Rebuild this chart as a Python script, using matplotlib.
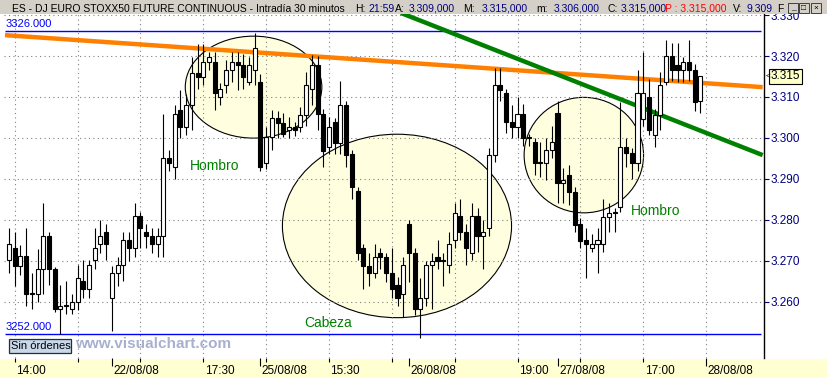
import matplotlib
matplotlib.use("Agg")
import matplotlib.pyplot as plt
import matplotlib.transforms as mtransforms
from matplotlib.patches import Ellipse, Rectangle

plt.rcParams['font.family'] = ['Liberation Sans', 'DejaVu Sans']

# 30 minute bars, 21/08/08 13:30 -> 27/08/08 22:00
opens = [3270.2, 3273.0, 3268.8, 3271.2, 3262.0, 3262.0, 3268.0, 3276.0, 3268.0, 3258.1,
         3259.0, 3258.1, 3260.0, 3265.0, 3263.0, 3270.2, 3274.1, 3277.0, 3261.0, 3266.9,
         3269.0, 3275.1, 3273.0, 3280.9, 3277.0, 3276.0, 3274.1, 3276.0, 3295.0, 3293.0,
         3306.8, 3302.7, 3308.0, 3315.8, 3314.8, 3318.6, 3318.6, 3309.9, 3312.8, 3316.7,
         3318.6, 3317.8, 3313.7, 3316.7, 3313.7, 3293.8, 3300.3, 3304.8, 3303.7, 3301.9,
         3302.7, 3302.7, 3305.6, 3311.9, 3317.8, 3305.8, 3297.9, 3304.0, 3298.8, 3308.0,
         3296.0, 3287.0, 3273.0, 3268.8, 3266.9, 3272.0, 3271.0, 3266.9, 3264.1, 3262.0,
         3279.0, 3272.0, 3258.1, 3261.0, 3269.0, 3271.0, 3270.0, 3269.0, 3275.1, 3280.9,
         3277.0, 3272.0, 3280.9, 3276.0, 3277.9, 3295.8, 3312.9, 3310.9, 3303.8, 3302.7,
         3305.8, 3300.2, 3298.9, 3293.8, 3293.8, 3297.0, 3306.0, 3288.9, 3290.9, 3286.9,
         3279.0, 3275.1, 3273.0, 3274.1, 3274.1, 3280.8, 3281.7, 3283.2, 3297.9, 3296.2,
         3293.8, 3304.5, 3309.9, 3300.7, 3305.6, 3313.7, 3320.0, 3317.8, 3316.7, 3318.6,
         3316.7, 3309.0]
highs = [3277.9, 3277.1, 3273.9, 3277.9, 3267.1, 3272.9, 3284.2, 3277.0, 3268.5, 3264.1,
         3265.0, 3262.0, 3269.0, 3270.2, 3270.2, 3277.9, 3280.0, 3279.0, 3268.6, 3270.8,
         3277.0, 3277.0, 3284.2, 3282.0, 3279.0, 3277.9, 3277.9, 3305.8, 3297.0, 3308.0,
         3311.7, 3310.7, 3319.8, 3322.9, 3322.9, 3321.1, 3321.1, 3313.5, 3319.0, 3321.1,
         3321.1, 3320.6, 3319.8, 3325.7, 3315.5, 3302.7, 3306.8, 3306.5, 3306.0, 3305.0,
         3304.0, 3307.5, 3316.0, 3320.3, 3320.0, 3307.0, 3305.0, 3304.8, 3313.9, 3309.1,
         3297.0, 3287.9, 3274.1, 3271.8, 3274.1, 3273.0, 3272.0, 3273.0, 3266.0, 3271.0,
         3280.0, 3273.0, 3265.9, 3270.0, 3272.0, 3275.1, 3272.0, 3277.0, 3284.0, 3285.0,
         3279.0, 3284.0, 3283.0, 3280.0, 3297.6, 3317.0, 3317.0, 3312.0, 3308.0, 3310.1,
         3308.2, 3301.0, 3300.0, 3299.1, 3299.9, 3302.9, 3308.9, 3292.6, 3293.4, 3288.0,
         3280.5, 3278.0, 3276.5, 3278.0, 3285.0, 3284.0, 3282.8, 3308.8, 3300.0, 3297.5,
         3316.7, 3321.1, 3314.5, 3307.0, 3316.2, 3323.9, 3323.1, 3323.1, 3319.8, 3323.9,
         3318.0, 3315.0]
lows = [3266.9, 3263.9, 3266.5, 3259.0, 3258.1, 3260.0, 3262.0, 3264.0, 3257.6, 3252.0,
        3256.9, 3256.9, 3258.0, 3261.0, 3261.0, 3268.0, 3272.0, 3270.2, 3252.9, 3263.9,
        3265.0, 3270.0, 3271.0, 3273.0, 3273.0, 3272.0, 3271.0, 3271.0, 3292.0, 3290.0,
        3300.0, 3300.7, 3301.9, 3312.0, 3313.0, 3316.6, 3306.8, 3308.0, 3310.9, 3313.7,
        3311.7, 3312.0, 3312.8, 3313.0, 3292.0, 3292.5, 3297.0, 3300.0, 3300.3, 3300.0,
        3300.5, 3301.5, 3303.0, 3308.0, 3302.0, 3292.8, 3296.0, 3296.0, 3296.0, 3292.8,
        3285.0, 3270.2, 3263.0, 3263.9, 3265.9, 3268.0, 3264.9, 3261.0, 3259.0, 3256.2,
        3264.9, 3256.7, 3251.1, 3259.0, 3258.1, 3268.0, 3263.9, 3267.0, 3273.0, 3275.0,
        3269.0, 3270.2, 3272.2, 3267.9, 3276.0, 3294.0, 3309.0, 3301.1, 3299.9, 3300.0,
        3298.0, 3298.0, 3291.0, 3290.5, 3289.7, 3295.0, 3284.0, 3284.0, 3283.6, 3277.1,
        3273.0, 3265.9, 3272.1, 3266.9, 3272.1, 3276.9, 3276.9, 3282.0, 3293.0, 3290.0,
        3292.0, 3303.0, 3300.7, 3297.9, 3301.9, 3312.9, 3314.0, 3313.7, 3313.7, 3314.0,
        3306.6, 3306.0]
closes = [3274.1, 3268.8, 3271.2, 3262.0, 3262.0, 3268.0, 3276.0, 3268.0, 3258.1, 3259.0,
          3259.0, 3260.0, 3265.9, 3263.0, 3269.0, 3273.0, 3276.0, 3274.1, 3266.9, 3269.0,
          3275.1, 3273.0, 3280.9, 3277.9, 3276.0, 3274.1, 3276.0, 3295.0, 3293.8, 3305.8,
          3302.7, 3308.0, 3315.8, 3314.8, 3318.6, 3319.8, 3310.9, 3311.9, 3316.7, 3318.6,
          3317.8, 3314.8, 3317.8, 3321.9, 3292.8, 3300.3, 3304.8, 3303.7, 3301.0, 3302.7,
          3301.9, 3305.6, 3312.9, 3317.8, 3305.8, 3296.9, 3302.7, 3298.8, 3308.0, 3295.8,
          3287.9, 3272.0, 3268.8, 3266.9, 3271.0, 3271.0, 3266.9, 3263.0, 3261.0, 3269.0,
          3272.0, 3258.1, 3261.0, 3269.0, 3270.0, 3270.0, 3270.0, 3274.1, 3281.7, 3277.0,
          3273.0, 3280.9, 3276.0, 3277.0, 3295.8, 3312.9, 3311.7, 3303.8, 3302.7, 3305.8,
          3299.9, 3300.0, 3293.8, 3293.8, 3297.0, 3298.9, 3288.9, 3289.7, 3286.9, 3278.7,
          3274.9, 3274.1, 3274.1, 3275.1, 3280.8, 3281.7, 3281.7, 3297.9, 3296.2, 3293.8,
          3310.9, 3310.9, 3301.9, 3305.6, 3312.9, 3320.0, 3316.7, 3316.7, 3318.6, 3316.7,
          3308.8, 3315.0]

day_bars = [18, 44, 70, 96, 122]
day_labels = ['22/08/08', '25/08/08', '26/08/08', '27/08/08', '28/08/08']
grid_bars = [1, 12, 23, 34, 45, 56, 67, 78, 89, 100, 111, 122]
grid_labels = ['14:00', '', '', '17:30', '', '15:30', '', '', '19:00', '', '17:00', '']
price_ticks = [3260, 3270, 3280, 3290, 3300, 3310, 3320, 3330]

levels = [3326, 3252]
resist_x = [-0.7, 131.9]
resist_y = [3325.1, 3312.4]
trend_x = [68.6, 131.9]
trend_y = [3330.5, 3295.8]

zone_x = [42.8, 67.9, 100.6]
zone_y = [3312.4, 3278.5, 3295.8]
zone_w = [23.9, 40.1, 20.9]
zone_h = [24.9, 44.8, 28.2]
zone_names = ['Hombro', 'Cabeza', 'Hombro']
name_x = [36.0, 55.9, 113.1]
name_y = [3293.2, 3254.9, 3282.2]

W, H = 828, 378
fig = plt.figure(figsize=(W / 100, H / 100), dpi=100)


def fx(px):
    return px / W


def fy(py):
    return 1 - py / H


ax = fig.add_axes([fx(4), fy(358), fx(764) - fx(4), fy(14) - fy(358)])
ax.set_xlim(-0.875, 132.13)
ax.set_ylim(3246.25, 3330.26)

# zones
for cx, cy, w, h in zip(zone_x, zone_y, zone_w, zone_h):
    ax.add_patch(Ellipse((cx, cy), w, h, facecolor='#FFFFE0', edgecolor='black', lw=0.8, zorder=0.5))

# grid
ax.set_yticks(price_ticks)
ax.set_yticklabels(['%.3f' % (v / 1000.0) for v in price_ticks])
ax.grid(axis='y', color='#808080', linestyle=(0, (1, 3)), lw=0.8, zorder=1)
ax.vlines(grid_bars, 3246.25, 3330.26, color='#808080', linestyle=(0, (1, 3)), lw=0.8, zorder=1)
ax.set_axisbelow(True)

# support / resistance levels
ax.hlines(levels, -0.7, 131.6, color='#0000FF', lw=1.0, zorder=2)
ax.text(-0.6, levels[0] + 0.7, '%.3f' % levels[0], color='#0000FF', fontsize=8, va='bottom', ha='left', zorder=2)
ax.text(-0.6, levels[1] + 0.7, '%.3f' % levels[1], color='#0000FF', fontsize=8, va='bottom', ha='left', zorder=2)

# trend lines
ax.plot(resist_x, resist_y, color='#FF8000', lw=3.2, solid_capstyle='butt', zorder=2.5)
ax.plot(trend_x, trend_y, color='#008000', lw=3.2, solid_capstyle='butt', zorder=2.5)

# candles
x = list(range(len(opens)))
ax.vlines(x, lows, highs, color='black', lw=0.8, zorder=3)
bottoms = [min(o, c) for o, c in zip(opens, closes)]
heights = [max(abs(c - o), 0.2) for o, c in zip(opens, closes)]
colors = ['white' if c > o else 'black' for o, c in zip(opens, closes)]
ax.bar(x, heights, bottom=bottoms, width=0.72, color=colors, edgecolor='black', lw=0.8, zorder=4)

for name, nx, ny in zip(zone_names, name_x, name_y):
    ax.text(nx, ny, name, color='#008000', fontsize=10, ha='center', va='center', zorder=5)

# axes look
for s in ['top', 'left', 'bottom']:
    ax.spines[s].set_visible(False)
ax.spines['right'].set_color('black')
ax.spines['right'].set_linewidth(1.0)
ax.yaxis.tick_right()
ax.tick_params(axis='y', colors='#000080', length=3.5, width=0.8, pad=1.5, labelsize=8.5)

ax.set_xticks(day_bars)
ax.set_xticklabels(day_labels)
ax.set_xticks(grid_bars, minor=True)
ax.set_xticklabels(grid_labels, minor=True)
ax.tick_params(axis='x', which='major', length=6, width=0.8, pad=-1, labelsize=8.5)
ax.tick_params(axis='x', which='minor', length=3, width=0.8, pad=2, labelsize=8.5)
shift = mtransforms.ScaledTranslation(1.5 / 100, 0, fig.dpi_scale_trans)
for lab in ax.get_xticklabels(which='both'):
    lab.set_ha('left')
    lab.set_transform(lab.get_transform() + shift)

# last price box
ax.text(1.0 + 7 / 760, closes[-1], '%.3f' % (closes[-1] / 1000.0), transform=ax.get_yaxis_transform(),
        fontsize=8.5, color='black', va='center', ha='left', zorder=6, clip_on=False,
        bbox=dict(boxstyle='square,pad=0.15', fc='#FFFFC8', ec='black', lw=0.8))
ax.text(1.0 + 2 / 760, closes[-1], '<', transform=ax.get_yaxis_transform(), fontsize=6,
        color='black', va='center', ha='left', zorder=6, clip_on=False)

# bottom strip
fig.patches.append(Rectangle((0, 0), 1, fy(359), transform=fig.transFigure, fc='#FFFFD2', ec='none', zorder=-1))

# header
fig.patches.append(Rectangle((0, fy(14)), 1, 1 - fy(14), transform=fig.transFigure, fc='#D4D0C8', ec='none', zorder=5))
hy = fy(11.5)
header = [(12, 'ES - DJ EURO STOXX50 FUTURE CONTINUOUS - Intradía 30 minutos', 'black'),
          (354.7, 'H:', 'black'), (368, '21:59', '#000080'),
          (394.7, 'A:', 'black'), (408.3, '3.309,000', '#000080'),
          (462.7, 'M:', 'black'), (481.7, '3.315,000', '#000080'),
          (536.7, 'm:', 'black'), (554, '3.306,000', '#000080'),
          (607.3, 'C:', 'black'), (620.5, '3.315,000', '#000080'),
          (665.5, 'P : 3.315,000', '#FF0000'),
          (733.3, 'V:', 'black'), (746.7, '9.309', '#000080'),
          (777, 'F', 'black')]
for hx, txt, col in header:
    fig.text(fx(hx), hy, txt, color=col, fontsize=7.5, ha='left', va='baseline', zorder=6)

for bx, sym in [(788, '_'), (799, '□'), (811, '×')]:
    fig.patches.append(Rectangle((fx(bx), fy(13)), fx(10), fy(3) - fy(13), transform=fig.transFigure,
                                 fc='#D4D0C8', ec='#404040', lw=0.7, zorder=6))
    fig.text(fx(bx + 5), fy(8), sym, fontsize=6, ha='center', va='center', zorder=7)

# footer widgets
fig.patches.append(Rectangle((fx(9), fy(353)), fx(62), fy(339) - fy(353), transform=fig.transFigure,
                             fc='#C8D8E8', ec='#1F2F3F', lw=0.9, zorder=6))
fig.text(fx(11), fy(346), 'Sin órdenes', fontsize=8, ha='left', va='center', zorder=7)
fig.text(fx(75), fy(344), 'www.visualchart.com', fontsize=11, fontweight='bold', color='#A8B0D0',
         ha='left', va='center', zorder=7)

fig.savefig('out.png', dpi=100, facecolor='white')
